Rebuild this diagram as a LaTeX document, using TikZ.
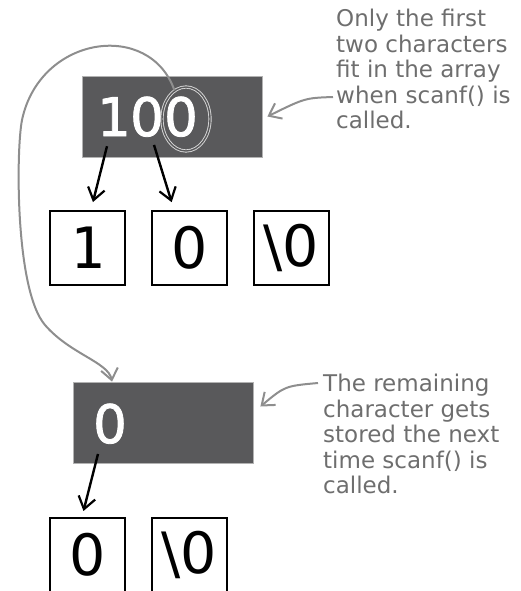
\documentclass[tikz,border=0pt]{standalone}
\usepackage{fontspec}
\setmainfont{DejaVu Sans}
\newfontfamily\heavydigits[FakeBold=1.6]{DejaVu Sans}
\newfontfamily\monodigit{DejaVu Sans Mono}
\usetikzlibrary{arrows.meta,shapes.geometric}

\definecolor{slab}{HTML}{59595B}
\definecolor{pencil}{HTML}{8E8E8E}
\definecolor{inkgrey}{HTML}{6E6E6E}

\tikzset{
  buffer/.style={fill=slab, draw=gray!60, line width=0.8pt, minimum width=180pt, minimum height=81pt, inner sep=0pt},
  digit/.style={text=white, font=\heavydigits\fontsize{53}{53}\selectfont, inner sep=0pt, anchor=base},
  cell/.style={draw=black, line width=2.4pt, minimum width=75pt, minimum height=74pt, inner sep=0pt, font=\fontsize{57}{57}\selectfont},
  pointer/.style={line width=2.4pt, -{Straight Barb[length=12pt,width=17pt,line width=2.2pt]}},
  scribble/.style={pencil, line width=2pt, -{Straight Barb[length=11pt,width=17pt,line width=2pt]}},
  note/.style={inkgrey, font=\fontsize{23}{25.5}\selectfont, align=left, anchor=north west, inner sep=0pt},
  loopmark/.style={ellipse, draw=gray!30, double=slab, double distance=1.4pt, line width=0.9pt, minimum width=48pt, minimum height=64pt, inner sep=0pt}
}

\begin{document}
\begin{tikzpicture}[x=1pt,y=-1pt]
  \useasboundingbox (0,0) rectangle (520,591);
  \clip (0,0) rectangle (520,591);

  % First buffer holding the typed input
  \node[buffer] (buf) at (172,116.5) {};
  \node[digit] (d1) at (114,136) {1};
  \node[digit] (d2) at (147,136) {0};
  \node[digit] (d3) at (181,136) {0};
  \node[loopmark] (loop) at (186,119) {};

  % The array after the first scanf()
  \node[cell] (c1) at (87.5,248) {\monodigit 1\hspace{20pt}};
  \node[cell] (c2) at (189.5,248) {0};
  \node[cell] (c3) at (291.5,248) {\textbackslash0};

  \draw[pointer, shorten >=8pt] ([shift={(-7,10)}]d1.south) -- ([xshift=3.5]c1.north);
  \draw[pointer, shorten >=8pt] ([shift={(7,8)}]d2.south) -- ([xshift=-15.5]c2.north);

  % What is left over for the next call
  \node[buffer] (rest) at (163,422.5) {};
  \node[digit] (e1) at (110,443) {0};

  \node[cell] (b1) at (87.5,555) {0};
  \node[cell] (b2) at (189.5,555) {\textbackslash0};

  \draw[pointer, shorten >=6pt] ([shift={(-12,10)}]e1.south) -- ([xshift=-5.5]b1.north);

  % Leftover character carried down
  \draw[scribble] (loop.112) .. controls (150,20) and (40,35) .. (22,120)
    .. controls (16,150) and (15,290) .. (45,325)
    .. controls (70,354) and (108,362) .. ([xshift=-51]rest.north);

  % Notes
  \node[note] (noteA) at (336,9) {Only the first\\two characters\\fit in the array\\when scanf() is\\called.};
  \node[note] (noteB) at (323,374) {The remaining\\character gets\\stored the next\\time scanf() is\\called.};

  \coordinate (pA) at (333,97);
  \coordinate (pB) at (318,383);
  \draw[scribble] (pA) .. controls (305,98) .. ([xshift=5]buf.east);
  \draw[scribble] (pB) .. controls (285,386) .. ([shift={(7,-16)}]rest.east);
\end{tikzpicture}
\end{document}
